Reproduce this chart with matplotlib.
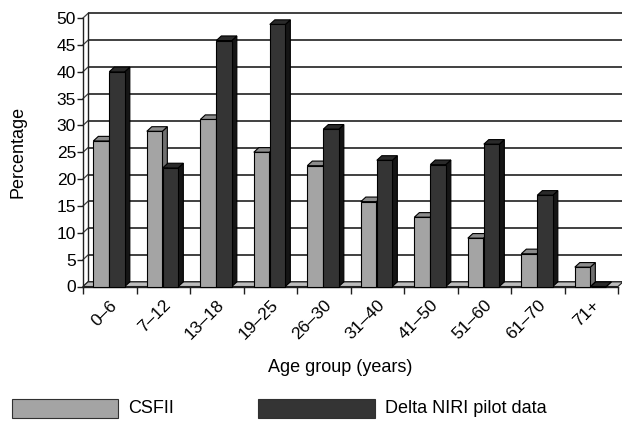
import matplotlib
matplotlib.use("Agg")
import matplotlib.pyplot as plt
from matplotlib.patches import Polygon, Rectangle
from matplotlib.ticker import FixedLocator

plt.rcParams['font.family'] = ['Liberation Sans', 'DejaVu Sans']

# Data
age_groups = ["0\u20136", "7\u201312", "13\u201318", "19\u201325", "26\u201330",
              "31\u201340", "41\u201350", "51\u201360", "61\u201370", "71+"]
csfii = [27.1, 28.9, 31.1, 25.0, 22.5, 15.8, 12.9, 9.0, 6.1, 3.6]
delta_niri = [40.0, 22.1, 45.8, 48.8, 29.3, 23.5, 22.7, 26.5, 17.0, 0.0]
series_names = ["CSFII", "Delta NIRI pilot data"]
y_ticks = list(range(0, 51, 5))

FS_TICK = 12.5
FS_LABEL = 13

W, H = 622, 421
fig = plt.figure(figsize=(W / 100, H / 100), dpi=100)
fig.patch.set_facecolor("white")

# front plane of the plot: x 83..618 px, y 286.5..18 px (from top)
left_px, right_px, zero_px, top_px = 83, 618, 286.5, 18
ax = fig.add_axes([left_px / W, (H - zero_px) / H,
                   (right_px - left_px) / W, (zero_px - top_px) / H])
n = len(age_groups)
ax.set_xlim(-0.5, n - 0.5)
ax.set_ylim(0, 50)
ax.set_facecolor("none")

# depth of the 3-D effect, in data units
px_per_x = (right_px - left_px) / n
px_per_y = (zero_px - top_px) / 50
dx = 5.0 / px_per_x
dy = 4.6 / px_per_y

grid_col = "#404040"
# back wall gridlines and left wall
for v in y_ticks:
    ax.plot([-0.5 + dx, n - 0.5 + dx], [v + dy, v + dy], color=grid_col,
            lw=1.4, zorder=1, clip_on=False, solid_capstyle="butt")
    ax.plot([-0.5, -0.5 + dx], [v, v + dy], color=grid_col, lw=0.9,
            zorder=1, clip_on=False)
ax.plot([-0.5 + dx, -0.5 + dx], [dy, 50 + dy], color="#202020", lw=1.0,
        zorder=1, clip_on=False)

# floor
floor = Polygon([(-0.5, 0), (n - 0.5, 0), (n - 0.5 + dx, dy), (-0.5 + dx, dy)],
                closed=True, facecolor="#bdbdbd", edgecolor="#202020", lw=0.8,
                zorder=2, clip_on=False)
ax.add_patch(floor)

bar_w = 0.29
offsets = [-0.307, -0.008]
styles = [
    dict(front="#a4a4a4", top="#8c8c8c", side="#707070"),
    dict(front="#343434", top="#2a2a2a", side="#151515"),
]
x_pos = list(range(n))

for i in range(n):
    for s, values in enumerate([csfii, delta_niri]):
        x0 = x_pos[i] + offsets[s]
        h = values[i]
        st = styles[s]
        z = 3 + 2 * s + 0.01 * i
        side = Polygon([(x0 + bar_w, 0), (x0 + bar_w + dx, dy),
                        (x0 + bar_w + dx, h + dy), (x0 + bar_w, h)],
                       closed=True, facecolor=st["side"], edgecolor="black",
                       lw=0.8, zorder=z, clip_on=False)
        top = Polygon([(x0, h), (x0 + bar_w, h), (x0 + bar_w + dx, h + dy),
                       (x0 + dx, h + dy)], closed=True, facecolor=st["top"],
                      edgecolor="black", lw=0.8, zorder=z, clip_on=False)
        ax.add_patch(side)
        ax.add_patch(top)
        ax.bar(x0, h, width=bar_w, align="edge", color=st["front"],
               edgecolor="black", lw=0.8, zorder=z + 0.5, clip_on=False)

# axes styling
for sp in ["top", "right"]:
    ax.spines[sp].set_visible(False)
for sp in ["left", "bottom"]:
    ax.spines[sp].set_color("#202020")
    ax.spines[sp].set_linewidth(1.0)
    ax.spines[sp].set_zorder(2)

ax.set_yticks(y_ticks)
ax.tick_params(axis="y", direction="out", length=4, width=1.0,
               labelsize=FS_TICK, pad=1.0, colors="#202020",
               labelcolor="black")
ax.set_xticks(x_pos)
ax.set_xticklabels(age_groups, rotation=45, ha="right", va="top",
                   rotation_mode="anchor", fontsize=FS_TICK)
ax.xaxis.set_minor_locator(FixedLocator([k - 0.5 for k in range(n + 1)]))
ax.tick_params(axis="x", which="major", length=0, pad=8)
ax.tick_params(axis="x", which="minor", direction="out", length=5, width=1.0,
               colors="#202020")

fig.text(18 / W, 1 - 152 / H, "Percentage", rotation=90, ha="center",
         va="center", fontsize=FS_LABEL)
fig.text(340 / W, 1 - 368 / H, "Age group (years)", ha="center",
         va="center", fontsize=FS_LABEL)

# legend
legend_boxes = [(12, 118), (258, 375)]
for s, (x_a, x_b) in enumerate(legend_boxes):
    fig.patches.append(Rectangle((x_a / W, (H - 418) / H), (x_b - x_a) / W,
                                 19 / H, transform=fig.transFigure,
                                 facecolor=styles[s]["front"],
                                 edgecolor="#303030", lw=0.8))
    fig.text((x_b + 10) / W, 1 - 408.5 / H, series_names[s], ha="left",
             va="center", fontsize=FS_LABEL)

fig.savefig("out.png", dpi=100, facecolor="white")
